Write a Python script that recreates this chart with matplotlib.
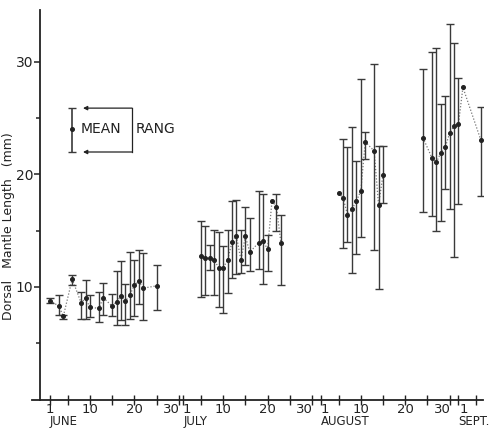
import numpy as np
import matplotlib
matplotlib.use("Agg")
import matplotlib.pyplot as plt

# Day index: June 1 = 1, July 1 = 31, Aug 1 = 62, Sept 1 = 93
june_day  = [1, 3, 4, 6, 8, 9, 10, 12, 13, 15, 16, 17, 18, 19, 20, 21, 22, 25]
june_mean = [8.8, 8.3, 7.4, 10.7, 8.6, 9.0, 8.2, 8.1, 9.05, 8.3, 8.7, 9.2, 8.75, 9.3, 10.15, 10.5, 9.9, 10.1]
june_lo   = [8.6, 7.5, 7.2, 10.2, 7.2, 7.2, 7.3, 6.9, 7.5, 7.4, 6.6, 7.05, 6.6, 7.2, 7.45, 8.5, 7.07, 7.96]
june_hi   = [9.0, 9.25, 7.5, 11.07, 9.6, 10.6, 9.25, 9.6, 10.4, 9.4, 11.45, 12.3, 10.25, 13.1, 12.4, 13.3, 13.0, 11.95]

july_day  = [35, 36, 37, 38, 39, 40, 41, 42, 43, 44, 45, 46, 48, 49, 50, 51, 52, 53]
july_mean = [12.76, 12.55, 12.55, 12.4, 11.7, 11.7, 12.4, 14.0, 14.5, 12.4, 14.5, 13.1, 13.94, 14.1, 13.35, 17.67, 17.1, 13.94]
july_lo   = [9.1, 9.3, 11.5, 9.3, 8.25, 7.66, 9.5, 10.8, 11.2, 11.27, 12.0, 11.4, 11.56, 10.3, 11.45, np.nan, 15.0, 10.18]
july_hi   = [15.87, 15.4, 13.7, 15.07, 14.9, 13.6, 15.07, 17.6, 17.7, 15.07, 17.1, 16.1, 18.56, 18.3, 14.6, np.nan, 18.27, 16.4]

aug_day   = [66, 67, 68, 69, 70, 71, 72, 74, 75, 76]
aug_mean  = [18.33, 17.94, 16.43, 16.9, 17.64, 18.53, 22.9, 22.1, 17.3, 19.96]
aug_lo    = [np.nan, 13.5, 14.0, 11.27, 12.93, 14.47, 21.4, 13.3, 9.8, 17.5]
aug_hi    = [np.nan, 23.15, 22.44, 24.2, 21.2, 28.46, 23.8, 29.8, 22.5, 22.56]

sep_day   = [85, 87, 88, 89, 90, 91, 92, 93, 94, 98]
sep_mean  = [23.27, 21.5, 21.08, 21.9, 22.4, 23.66, 24.3, 24.5, 27.75, 23.1]
sep_lo    = [16.7, 16.35, 15.0, 15.9, 18.7, 16.9, 12.7, 17.4, np.nan, 18.1]
sep_hi    = [29.35, 30.86, 31.27, 26.3, 27.0, 33.4, 31.7, 28.55, np.nan, 26.0]

groups = [
    (june_day, june_mean, june_lo, june_hi),
    (july_day, july_mean, july_lo, july_hi),
    (aug_day, aug_mean, aug_lo, aug_hi),
    (sep_day, sep_mean, sep_lo, sep_hi),
]

tick_days = [1, 5, 10, 15, 20, 25, 30, 31, 35, 40, 45, 50, 55, 60,
             62, 66, 71, 76, 81, 86, 91, 93, 97]
num_labels = [(1, "1", "center", 0), (10, "10", "center", 0), (20, "20", "center", 0),
              (30, "30", "right", 0.3), (31, "1", "left", -0.1),
              (40, "10", "center", 0), (50, "20", "center", 0),
              (60, "30", "right", 0.3), (62, "1", "left", -0.1),
              (71, "10", "center", 0), (81, "20", "center", 0),
              (91, "30", "right", 0.3), (93, "1", "left", 0.3)]
month_labels = [(1, "JUNE"), (31, "JULY"), (62, "AUGUST"), (93, "SEPT.")]

W, H = 497, 428
fig = plt.figure(figsize=(W / 100, H / 100), dpi=100)
plt.rcParams['font.family'] = ['DejaVu Sans']

px_per_day = 4.44
x0_px = 50.0
def day_of_px(px):
    return 1 + (px - x0_px) / px_per_day

left_px, right_px = 32, 483
bottom_px, top_px = 399.5, 10
ax = fig.add_axes([left_px / W, (H - bottom_px) / H,
                   (right_px - left_px) / W, (bottom_px - top_px) / H])
ax.set_xlim(day_of_px(left_px), day_of_px(right_px))
ax.set_ylim(0, (bottom_px - top_px) / 11.25)

for s in ("top", "right"):
    ax.spines[s].set_visible(False)
ax.spines["left"].set_position(("data", day_of_px(40)))
for s in ("left", "bottom"):
    ax.spines[s].set_color("#222222")
    ax.spines[s].set_linewidth(1.3)

bar_col = "#3a3a3a"
for d, m, lo, hi in groups:
    d = np.array(d, float); m = np.array(m, float)
    lo = np.array(lo, float); hi = np.array(hi, float)
    ax.plot(d, m, linestyle=(0, (1, 1.5)), color="#777777", lw=0.9, zorder=2)
    ok = ~np.isnan(lo)
    ax.errorbar(d[ok], m[ok], yerr=[m[ok] - lo[ok], hi[ok] - m[ok]], fmt="none",
                ecolor=bar_col, elinewidth=1.0, capsize=2.6, capthick=1.0, zorder=3)
    ax.plot(d, m, "o", color="#222222", ms=2.6, zorder=4)

# y ticks
ax.set_yticks([10, 20, 30])
ax.set_yticks([5, 15, 25], minor=True)
ax.tick_params(axis="y", which="major", direction="out", length=4, width=1.1,
               labelsize=10, pad=1, colors="#222222")
ax.tick_params(axis="y", which="minor", direction="out", length=3, width=1.1, colors="#222222")

# x ticks
ax.set_xticks(tick_days)
ax.set_xticklabels([])
ax.tick_params(axis="x", which="major", direction="inout", length=7, width=1.0, colors="#222222")

for d, t, ha, off in num_labels:
    ax.annotate(t, xy=(d + off, 0), xycoords="data", xytext=(0, -7.5),
                textcoords="offset points", ha=ha, va="center", fontsize=9.5, color="#222222")
for d, t in month_labels:
    ax.annotate(t, xy=(d, 0), xycoords="data", xytext=(0, -15.8),
                textcoords="offset points", ha="left", va="center", fontsize=8.5, color="#222222")

fig.text(9 / W, 1 - 226 / H, "Dorsal   Mantle Length   (mm)", rotation=90,
         ha="center", va="center", fontsize=9, color="#222222")

# legend box
lx = day_of_px(72)
ax.errorbar([lx], [24.0], yerr=[[2.0], [1.9]], fmt="o", color="#222222", ms=2.6,
            ecolor=bar_col, elinewidth=1.2, capsize=2.6, capthick=1.0)
ax.text(day_of_px(81), 24.0, "MEAN", ha="left", va="center", fontsize=10, color="#222222")
rx = day_of_px(132)
tipx = day_of_px(83)
for yy in (25.9, 22.0):
    ax.annotate("", xy=(tipx, yy), xytext=(rx, yy),
                arrowprops=dict(arrowstyle="-|>", color="#222222", lw=0.9,
                                mutation_scale=6, shrinkA=0, shrinkB=0))
ax.plot([rx, rx], [22.0, 25.9], color="#222222", lw=0.9)
ax.text(day_of_px(136), 24.0, "RANG", ha="left", va="center", fontsize=10, color="#222222")

fig.savefig("out.png", dpi=100)
